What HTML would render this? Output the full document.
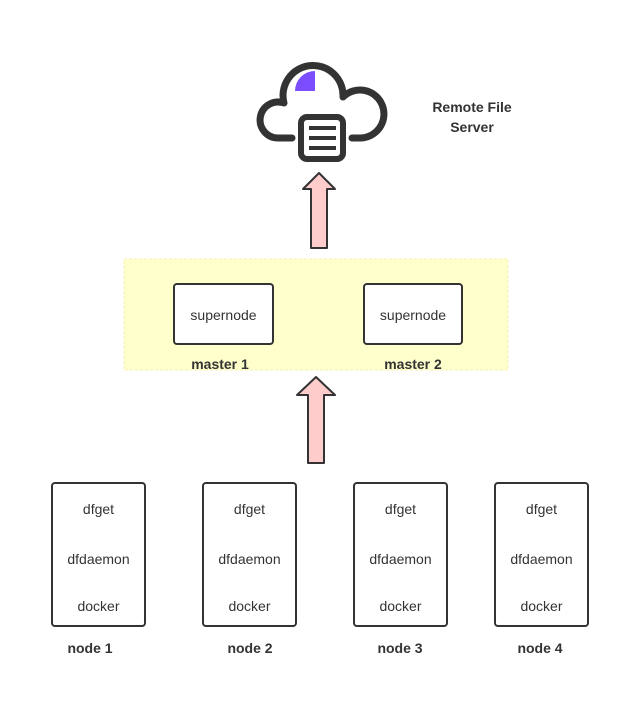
<!DOCTYPE html>
<html><head><meta charset="utf-8"><style>
html,body{margin:0;padding:0;background:#fff;}
svg{display:block;}
text{font-family:"Liberation Sans",sans-serif;fill:#333;}
.b{font-weight:bold;font-size:14px;}
.n{font-size:14px;}
</style></head><body>
<svg width="620" height="703" viewBox="0 0 620 703" xmlns="http://www.w3.org/2000/svg">
<!-- cloud -->
<path d="M292,138 H278 A18,18 0 1 1 284,103 A30,30 0 1 1 343,97 A24,24 0 1 1 360,138 H352" fill="none" stroke="#333" stroke-width="7" stroke-linejoin="round" stroke-linecap="round"/>
<path d="M315,91 V71 A20,20 0 0 0 295,91 Z" fill="#7c4dff"/>
<rect x="301" y="117" width="42" height="42" rx="6" fill="#fff" stroke="#333" stroke-width="6"/>
<rect x="309" y="126" width="27" height="4" fill="#333"/>
<rect x="309" y="136" width="27" height="4" fill="#333"/>
<rect x="309" y="146" width="27" height="4" fill="#333"/>
<text class="b" x="472" y="112" text-anchor="middle">Remote File</text>
<text class="b" x="472" y="132" text-anchor="middle">Server</text>
<!-- arrow 1 -->
<path d="M319,173 L335,189 L327,189 L327,248 L311,248 L311,189 L303,189 Z" fill="#ffcccc" stroke="#333" stroke-width="2" stroke-linejoin="round"/>
<!-- yellow area -->
<rect x="124" y="259" width="384" height="111" fill="#ffffcc" stroke="#f5f0b0" stroke-width="1" stroke-dasharray="3,2"/>
<rect x="174" y="284" width="99" height="60" rx="3" fill="#fff" stroke="#333" stroke-width="2"/>
<text class="n" x="223.5" y="320" text-anchor="middle">supernode</text>
<rect x="364" y="284" width="98" height="60" rx="3" fill="#fff" stroke="#333" stroke-width="2"/>
<text class="n" x="413" y="320" text-anchor="middle">supernode</text>
<text class="b" x="220" y="369" text-anchor="middle">master 1</text>
<text class="b" x="413" y="369" text-anchor="middle">master 2</text>
<!-- arrow 2 -->
<path d="M316,377 L335,395 L324,395 L324,463 L308,463 L308,395 L297,395 Z" fill="#ffcccc" stroke="#333" stroke-width="2" stroke-linejoin="round"/>
<!-- nodes -->
<g>
<rect x="52" y="483" width="93" height="143" rx="3" fill="#fff" stroke="#333" stroke-width="2"/>
<text class="n" x="98.5" y="514" text-anchor="middle">dfget</text>
<text class="n" x="98.5" y="564" text-anchor="middle">dfdaemon</text>
<text class="n" x="98.5" y="611" text-anchor="middle">docker</text>
<text class="b" x="90" y="653" text-anchor="middle">node 1</text>
</g>
<g>
<rect x="203" y="483" width="93" height="143" rx="3" fill="#fff" stroke="#333" stroke-width="2"/>
<text class="n" x="249.5" y="514" text-anchor="middle">dfget</text>
<text class="n" x="249.5" y="564" text-anchor="middle">dfdaemon</text>
<text class="n" x="249.5" y="611" text-anchor="middle">docker</text>
<text class="b" x="250" y="653" text-anchor="middle">node 2</text>
</g>
<g>
<rect x="354" y="483" width="93" height="143" rx="3" fill="#fff" stroke="#333" stroke-width="2"/>
<text class="n" x="400.5" y="514" text-anchor="middle">dfget</text>
<text class="n" x="400.5" y="564" text-anchor="middle">dfdaemon</text>
<text class="n" x="400.5" y="611" text-anchor="middle">docker</text>
<text class="b" x="400" y="653" text-anchor="middle">node 3</text>
</g>
<g>
<rect x="495" y="483" width="93" height="143" rx="3" fill="#fff" stroke="#333" stroke-width="2"/>
<text class="n" x="541.5" y="514" text-anchor="middle">dfget</text>
<text class="n" x="541.5" y="564" text-anchor="middle">dfdaemon</text>
<text class="n" x="541.5" y="611" text-anchor="middle">docker</text>
<text class="b" x="540" y="653" text-anchor="middle">node 4</text>
</g>
</svg>
</body></html>
